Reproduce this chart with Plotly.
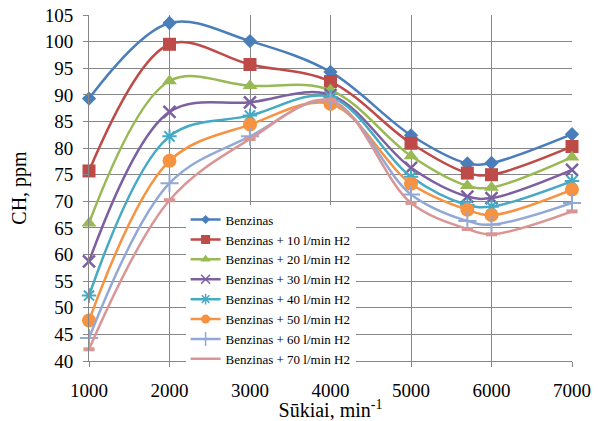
import plotly.graph_objects as go

rpm = [1000, 2000, 3000, 4000, 5000, 5700, 6000, 7000]

series_names = [
    "Benzinas",
    "Benzinas + 10 l/min H2",
    "Benzinas + 20 l/min H2",
    "Benzinas + 30 l/min H2",
    "Benzinas + 40 l/min H2",
    "Benzinas + 50 l/min H2",
    "Benzinas + 60 l/min H2",
    "Benzinas + 70 l/min H2",
]

ch_0 = [89.3, 103.5, 100.1, 94.3, 82.4, 77.1, 77.2, 82.6]
ch_10 = [75.7, 99.5, 95.7, 92.5, 80.9, 75.3, 75.0, 80.3]
ch_20 = [65.9, 92.6, 91.7, 90.9, 78.5, 72.9, 72.6, 78.3]
ch_30 = [58.7, 86.8, 88.6, 90.0, 76.3, 70.9, 70.6, 75.9]
ch_40 = [52.3, 82.2, 86.1, 89.6, 74.6, 69.3, 69.0, 73.8]
ch_50 = [47.6, 77.6, 84.4, 88.3, 73.3, 68.4, 67.4, 72.2]
ch_60 = [44.3, 73.4, 82.2, 88.8, 71.3, 66.3, 65.6, 69.7]
ch_70 = [42.2, 70.2, 81.7, 89.0, 69.7, 64.8, 63.8, 68.1]

values = [ch_0, ch_10, ch_20, ch_30, ch_40, ch_50, ch_60, ch_70]

colors = ["#4A7EBB", "#BE4B48", "#98B954", "#7D60A0",
          "#46AAC5", "#F69240", "#93A9D5", "#D99694"]
symbols = ["diamond", "square", "triangle-up", "x-thin-open",
           "asterisk-open", "circle", "cross-thin-open", "line-ew-open"]
sizes = [11, 13, 13, 12, 12, 14, 13, 8]
mlw = [0, 0, 0, 2.5, 2, 0, 2, 4]
leg_sizes = [7, 9, 9, 9, 9, 9, 10, 1]

SERIF = "Liberation Serif, Times New Roman, serif"

fig = go.Figure()
for name, ys, c, s, sz, lw in zip(series_names, values, colors, symbols, sizes, mlw):
    fig.add_trace(go.Scatter(
        x=rpm, y=ys, name=name, mode="lines+markers", showlegend=False,
        line=dict(color=c, width=2.5, shape="spline", smoothing=1.0),
        marker=dict(symbol=s, size=sz, color=c, line=dict(color=c, width=lw)),
        cliponaxis=False,
    ))
for name, c, s, sz, lw in zip(series_names, colors, symbols, leg_sizes, mlw):
    fig.add_trace(go.Scatter(
        x=[None], y=[None], name=name, mode="lines+markers",
        line=dict(color=c, width=2.5),
        marker=dict(symbol=s, size=sz, color=c, line=dict(color=c, width=min(lw, 1.5))),
    ))

grid = "#878787"
fig.update_layout(
    width=599, height=421,
    margin=dict(l=89, r=27, t=15, b=60, autoexpand=False),
    paper_bgcolor="white", plot_bgcolor="white",
    font=dict(family=SERIF, size=19, color="black"),
    showlegend=True,
    legend=dict(
        x=0.2, y=0.452, xanchor="left", yanchor="top",
        bgcolor="white", borderwidth=0,
        font=dict(family=SERIF, size=13, color="black"),
        tracegroupgap=0, itemwidth=30,
    ),
    xaxis=dict(
        range=[1000, 7000], tickvals=[1000, 2000, 3000, 4000, 5000, 6000, 7000],
        showgrid=True, gridcolor=grid, gridwidth=1,
        showline=True, linecolor=grid, linewidth=1,
        ticks="outside", ticklen=5, tickcolor=grid,
        ticklabelstandoff=7, zeroline=False, automargin=False,
        tickfont=dict(family=SERIF, size=19, color="black"),
        title=dict(text="Sūkiai, min<sup>-1</sup>",
                   font=dict(family=SERIF, size=20, color="black"), standoff=8),
    ),
    yaxis=dict(
        range=[40, 105], dtick=5, tick0=40,
        showgrid=True, gridcolor=grid, gridwidth=1,
        showline=True, linecolor=grid, linewidth=1,
        ticks="outside", ticklen=5, tickcolor=grid,
        ticklabelstandoff=6, zeroline=False, automargin=False,
        tickfont=dict(family=SERIF, size=19, color="black"),
        title=dict(text="CH, ppm",
                   font=dict(family=SERIF, size=20, color="black"), standoff=12),
    ),
)
fig.write_html("out.html")
